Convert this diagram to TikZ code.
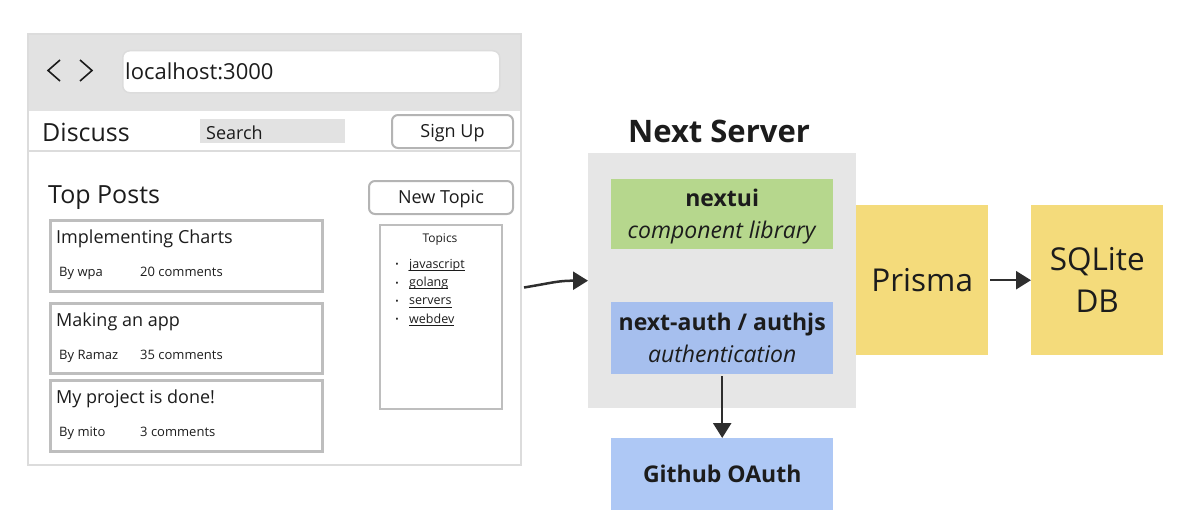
\documentclass[tikz,border=0pt]{standalone}
\usepackage{fontspec}
\setmainfont{Open Sans}
\usetikzlibrary{arrows.meta,positioning}

\newcommand\fs[2]{\fontsize{#1}{#2}\selectfont}

\begin{document}
\begin{tikzpicture}[x=1pt,y=-1pt,
  every node/.style={inner sep=0pt, text=mytext},
  txt/.style={anchor=base west},
  button/.style={draw=mybutton, line width=2pt, rounded corners=6pt, fill=white, anchor=north west, font=\fs{18}{20}, text height=1.18em, text depth=0pt},
  card/.style={draw=mycard, line width=2.5pt, minimum width=272pt, anchor=north west},
  part/.style={minimum width=222pt, anchor=north west, align=center, text depth=0pt, font=\fs{23}{32}},
  store/.style={fill=myyellow, minimum width=132pt, minimum height=150pt, anchor=north west, align=center, text depth=0pt, font=\fs{31.5}{42}},
  flow/.style={draw=myarrow, line width=2.5pt, -{Triangle[length=15pt,width=18pt]}},
  chevron/.style={draw=mytext, line width=1.6pt}]

\definecolor{mytext}{HTML}{1C1C1C}
\definecolor{myheader}{HTML}{E2E2E2}
\definecolor{myframe}{HTML}{DCDCDC}
\definecolor{mycard}{HTML}{BEBEBE}
\definecolor{mybutton}{HTML}{B4B4B4}
\definecolor{myserver}{HTML}{E6E6E6}
\definecolor{mygreen}{HTML}{B6D78D}
\definecolor{myauth}{HTML}{A6BFEE}
\definecolor{mygithub}{HTML}{AEC8F5}
\definecolor{myyellow}{HTML}{F4DB7B}
\definecolor{myarrow}{HTML}{2E2E2E}

\useasboundingbox (0,0) rectangle (1182,519);

% browser mockup
\fill[myheader] (27,33) rectangle (520,111);
\node[draw=myframe, line width=2pt, minimum width=493pt, minimum height=431pt, anchor=north west] (browser) at (27,33) {};
\draw[myframe, line width=2pt] (27,151) -- (520,151);
\node[draw=myframe, fill=white, line width=1.5pt, rounded corners=7pt, minimum width=377pt, minimum height=42pt, anchor=north west] (urlbar) at (122,50) {};
\node[txt, font=\fs{22}{26}] (url) at (125,79.5) {localhost:3000};
\draw[chevron] (60,60) -- (48,70.5) -- (60,81);
\draw[chevron] (80,60) -- (92,70.5) -- (80,81);

\node[txt, font=\fs{25}{28}] (brand) at (42,141) {Discuss};
\node[fill=myheader, minimum width=145pt, minimum height=24pt, anchor=north west] (search) at (200,119) {};
\node[txt, font=\fs{18}{20}] (searchtext) at (206,139.5) {Search};
\node[button, minimum width=121pt, minimum height=33pt] (signup) at (391,114) {Sign Up};
\node[txt, font=\fs{25}{28}] (heading) at (48,203) {Top Posts};
\node[button, minimum width=144pt, minimum height=33pt] (newtopic) at (368,180) {New Topic};

\foreach \i/\top/\h/\title/\who/\n in {1/219/71/Implementing Charts/wpa/20, 2/302/70/Making an app/Ramaz/35, 3/379/71/My project is done!/mito/3}{
  \node[card, minimum height=\h pt] (card\i) at (49,\top) {};
  \node[txt, font=\fs{18}{22}] (title\i) at ([shift={(7,24.5)}]card\i.north west) {\title};
  \node[txt, font=\fs{13}{16}] (author\i) at ([shift={(10,57)}]card\i.north west) {By \who};
  \node[txt, font=\fs{13}{16}] (count\i) at ([shift={(91,57)}]card\i.north west) {\n{} comments};
}

\node[draw=mycard, line width=2pt, minimum width=122pt, minimum height=184pt, anchor=north west] (topics) at (379,224) {};
\node[anchor=base, font=\fs{12}{14}] (topicshead) at (440,242) {Topics};
\foreach \t [count=\k] in {javascript,golang,servers,webdev}{
  \node[font=\fs{9}{10}] (dot\k) at (397,{247.5+18.3*\k}) {\textbullet};
  \node[txt, font=\fs{12.5}{14}] (topic\k) at (409,{250+18.3*\k}) {\t};
  \draw[mytext, line width=0.7pt] ([yshift=-2pt]topic\k.base west) -- ([yshift=-2pt]topic\k.base east);
}

% server side
\node[font=\bfseries\fs{31}{36}] (servertitle) at (719,131) {Next Server};
\node[fill=myserver, minimum width=268pt, minimum height=255pt, anchor=north west] (server) at (588,153) {};
\node[part, fill=mygreen, minimum height=70pt] (nextui) at (611,179) {\textbf{nextui}\\\textit{component library}};
\node[part, fill=myauth, minimum height=72pt] (auth) at (611,302) {\textbf{next-auth / authjs}\\\textit{authentication}};
\node[part, fill=mygithub, minimum height=72pt] (github) at (611,438) {\textbf{Github OAuth}};
\node[store] (prisma) at (856,205) {Prisma};
\node[store] (sqlite) at (1031,205) {SQLite\\DB};

\draw[flow] ([shift={(2,38)}]browser.east) .. controls +(30,-5) and +(-30,0) .. (server.west);
\draw[flow] ([xshift=2pt]prisma.east) -- (sqlite.west);
\draw[flow] ([yshift=-2pt]auth.south) -- (github.north);
\end{tikzpicture}
\end{document}
